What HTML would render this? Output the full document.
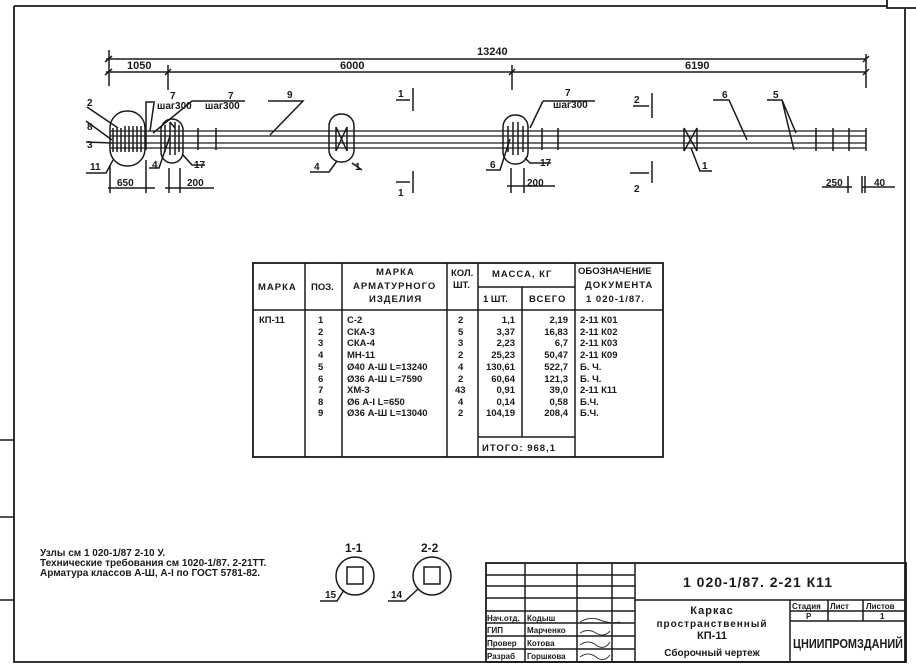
<!DOCTYPE html>
<html><head><meta charset="utf-8"><style>
html,body{margin:0;padding:0;background:#fff;}
svg{display:block;}
text{font-family:"Liberation Sans","DejaVu Sans",sans-serif;fill:#1a1a1a;font-weight:bold;}
.h{letter-spacing:1px;}
</style></head><body>
<svg width="916" height="665" viewBox="0 0 916 665" xmlns="http://www.w3.org/2000/svg">
<g stroke="#1a1a1a" fill="none" stroke-width="1.5">
<path d="M14 6 H887 M14 6 V662 H906 M905 8 V662 M887 0 V8 H916" stroke-width="1.8"/>
<path d="M0 440 H14 M0 517 H14 M0 600 H14"/>
<path d="M106 59 H866 M106 72 H866"/>
<path d="M109 50 V86 M168 65 V90 M512 65 V90 M866 54 V88"/>
<path d="M105 62 L112 56 M105 75 L112 69 M165 75 L171 69 M509 75 L515 69 M863 62 L869 56 M863 75 L869 69"/>
<path d="M110 131 H866 M110 136 H866 M110 143 H866 M110 148 H866" stroke-width="1.3"/>
<rect x="110" y="111" width="35" height="55" rx="17" />
<path d="M113 128 V152 M117 128 V152 M121 128 V152 M125 126 V152 M129 126 V152 M133 126 V152 M137 126 V152 M141 126 V152"/>
<path d="M146 150 V102 H155"/>
<rect x="161" y="119" width="22" height="44" rx="11"/>
<path d="M165 125 V152 M170 122 V155 M175 122 V155 M179 125 V152 M170 122 L175 128"/>
<path d="M198 128 V150 M216 128 V150"/>
<rect x="329" y="114" width="25" height="48" rx="12"/>
<path d="M336 127 V151 M347 127 V151 M336 127 L347 151 M347 127 L336 151"/>
<rect x="503" y="115" width="25" height="49" rx="12"/>
<path d="M508 126 V152 M513 122 V155 M518 122 V155 M523 126 V152"/>
<path d="M542 128 V150 M558 128 V150"/>
<path d="M684 128 V151 M697 128 V151 M684 128 L697 151 M697 128 L684 151"/>
<path d="M816 128 V151 M833 128 V151 M849 128 V151 M866 128 V151"/>
<path d="M87 107 L118 128 M86 121 L112 140 M86 142 L112 143 M86 173 H106 L113 160"/>
<path d="M150 131 L154 103 M153 133 L192 101 H245 M268 101 H303 L270 135"/>
<path d="M149 168 H159 L170 136 M183 155 L192 165 H205"/>
<path d="M543 101 L530 128 M543 101 H595"/>
<path d="M486 170 H500 L510 139 M525 158 L530 163 H551"/>
<path d="M713 100 H729 L747 140 M767 100 H782 L796 133 M782 100 L794 150 M691 148 L700 171 H712"/>
<path d="M310 172 H329 L337 161 M352 163 L362 170"/>
<path d="M396 100 H410 M413 88 V111 M396 182 H410 M413 171 V193 M633 106 H649 M652 93 V118 M630 173 H649 M652 161 V183"/>
<path d="M110 165 V193 M146 160 V193 M108 188 H155 M169 168 V193 M180 168 V193 M165 188 H214 M511 168 V193 M524 168 V193 M507 186 H555 M848 176 V193 M862 176 V193 M865 176 V193 M822 187 H852 M862 187 H895"/>
<rect x="253" y="263" width="410" height="194" stroke-width="1.8"/>
<path d="M305 263 V457 M342 263 V457 M447 263 V457 M478 263 V457 M575 263 V457 M522 287 V437 M478 287 H575 M253 310 H663 M478 437 H575"/>
<circle cx="355" cy="576" r="19"/><rect x="347" y="567" width="16" height="17"/>
<circle cx="432" cy="576" r="19"/><rect x="424" y="567" width="16" height="17"/>
<path d="M320 601 H337 L344 590 M388 601 H405 L418 589"/>
<rect x="486" y="563" width="420" height="99" stroke-width="1.8"/>
<path d="M525 563 V662 M577 563 V662 M612 563 V662 M635 563 V662"/>
<path d="M486 575 H635 M486 586 H635 M486 598 H635 M486 611 H635 M486 623 H635 M486 636 H635 M486 649 H635"/>
<path d="M635 600 H906 M790 600 V662 M790 611 H906 M790 621 H906 M828 600 V621 M863 600 V621"/>
</g>
<g>
<text x="477" y="55" font-size="11">13240</text>
<text x="127" y="69" font-size="11">1050</text>
<text x="340" y="69" font-size="11">6000</text>
<text x="685" y="69" font-size="11">6190</text>
<text x="87" y="106" font-size="10">2</text>
<text x="87" y="130" font-size="10">8</text>
<text x="87" y="148" font-size="10">3</text>
<text x="90" y="170" font-size="10">11</text>
<text x="170" y="99" font-size="10">7</text>
<text x="157" y="109" font-size="10">шаг300</text>
<text x="228" y="99" font-size="10">7</text>
<text x="205" y="109" font-size="10">шаг300</text>
<text x="287" y="98" font-size="10">9</text>
<text x="152" y="168" font-size="10">4</text>
<text x="194" y="168" font-size="10">17</text>
<text x="117" y="186" font-size="10">650</text>
<text x="187" y="186" font-size="10">200</text>
<text x="314" y="170" font-size="10">4</text>
<text x="355" y="170" font-size="10">1</text>
<text x="398" y="97" font-size="10">1</text>
<text x="398" y="196" font-size="10">1</text>
<text x="565" y="96" font-size="10">7</text>
<text x="553" y="108" font-size="10">шаг300</text>
<text x="490" y="168" font-size="10">6</text>
<text x="540" y="166" font-size="10">17</text>
<text x="527" y="186" font-size="10">200</text>
<text x="634" y="103" font-size="10">2</text>
<text x="634" y="192" font-size="10">2</text>
<text x="722" y="98" font-size="10">6</text>
<text x="773" y="98" font-size="10">5</text>
<text x="702" y="169" font-size="10">1</text>
<text x="826" y="186" font-size="10">250</text>
<text x="874" y="186" font-size="10">40</text>
</g>
<g font-size="9.5">
<text x="258" y="290" class="h">МАРКА</text>
<text x="311" y="290">ПОЗ.</text>
<text x="376" y="275" class="h">МАРКА</text>
<text x="353" y="289" class="h">АРМАТУРНОГО</text>
<text x="369" y="302" class="h">ИЗДЕЛИЯ</text>
<text x="451" y="276">КОЛ.</text>
<text x="453" y="288">ШТ.</text>
<text x="492" y="277" class="h">МАССА, КГ</text>
<text x="483" y="302">1 ШТ.</text>
<text x="529" y="302" class="h">ВСЕГО</text>
<text x="578" y="274">ОБОЗНАЧЕНИЕ</text>
<text x="585" y="288" class="h">ДОКУМЕНТА</text>
<text x="586" y="302" class="h">1 020-1/87.</text>
<text x="259" y="323">КП-11</text>
<text x="318" y="323">1</text><text x="318" y="335">2</text><text x="318" y="346">3</text><text x="318" y="358">4</text><text x="318" y="370">5</text><text x="318" y="382">6</text><text x="318" y="393">7</text><text x="318" y="405">8</text><text x="318" y="416">9</text>
<text x="347" y="323">С-2</text>
<text x="347" y="335">СКА-3</text>
<text x="347" y="346">СКА-4</text>
<text x="347" y="358">МН-11</text>
<text x="347" y="370">Ø40 А-Ш   L=13240</text>
<text x="347" y="382">Ø36 А-Ш   L=7590</text>
<text x="347" y="393">ХМ-3</text>
<text x="347" y="405">Ø6 А-I      L=650</text>
<text x="347" y="416">Ø36 А-Ш   L=13040</text>
<text x="458" y="323">2</text><text x="458" y="335">5</text><text x="458" y="346">3</text><text x="458" y="358">2</text><text x="458" y="370">4</text><text x="458" y="382">2</text><text x="455" y="393">43</text><text x="458" y="405">4</text><text x="458" y="416">2</text>
<g text-anchor="end">
<text x="515" y="323">1,1</text><text x="515" y="335">3,37</text><text x="515" y="346">2,23</text><text x="515" y="358">25,23</text><text x="515" y="370">130,61</text><text x="515" y="382">60,64</text><text x="515" y="393">0,91</text><text x="515" y="405">0,14</text><text x="515" y="416">104,19</text>
<text x="568" y="323">2,19</text><text x="568" y="335">16,83</text><text x="568" y="346">6,7</text><text x="568" y="358">50,47</text><text x="568" y="370">522,7</text><text x="568" y="382">121,3</text><text x="568" y="393">39,0</text><text x="568" y="405">0,58</text><text x="568" y="416">208,4</text>
</g>
<text x="580" y="323">2-11  К01</text><text x="580" y="335">2-11  К02</text><text x="580" y="346">2-11  К03</text><text x="580" y="358">2-11  К09</text><text x="580" y="370">Б. Ч.</text><text x="580" y="382">Б. Ч.</text><text x="580" y="393">2-11  К11</text><text x="580" y="405">Б.Ч.</text><text x="580" y="416">Б.Ч.</text>
<text x="482" y="451" class="h">ИТОГО: 968,1</text>
</g>
<g font-size="10">
<text x="40" y="556">Узлы см 1 020-1/87  2-10 У.</text>
<text x="40" y="566">Технические требования см 1020-1/87. 2-21ТТ.</text>
<text x="40" y="576">Арматура классов А-Ш, А-I по ГОСТ 5781-82.</text>
<text x="345" y="552" font-size="12">1-1</text>
<text x="421" y="552" font-size="12">2-2</text>
<text x="325" y="598">15</text>
<text x="391" y="598">14</text>
</g>
<g font-size="8">
<text x="487" y="621">Нач.отд.</text><text x="527" y="621">Кодыш</text>
<text x="487" y="633">ГИП</text><text x="527" y="633">Марченко</text>
<text x="487" y="646">Провер</text><text x="527" y="646">Котова</text>
<text x="487" y="659">Разраб</text><text x="527" y="659">Горшкова</text>
<text x="792" y="609">Стадия</text><text x="830" y="609">Лист</text><text x="866" y="609">Листов</text>
<text x="806" y="619">Р</text><text x="880" y="619">1</text>
</g>
<text x="683" y="587" font-size="14" class="h">1 020-1/87. 2-21    К11</text>
<text x="712" y="614" font-size="11" text-anchor="middle" class="h">Каркас</text>
<text x="712" y="627" font-size="10" text-anchor="middle" class="h">пространственный</text>
<text x="712" y="639" font-size="11" text-anchor="middle">КП-11</text>
<text x="712" y="656" font-size="10" text-anchor="middle">Сборочный чертеж</text>
<text x="848" y="648" font-size="13" text-anchor="middle" textLength="110" lengthAdjust="spacingAndGlyphs">ЦНИИПРОМЗДАНИЙ</text>
<path d="M580 622 q10 -6 20 -2 t20 2 M580 633 q8 -5 16 0 t14 -2 M580 645 q8 -6 16 0 t14 -3 M580 657 q8 -6 16 0 t14 -2" stroke="#333" fill="none" stroke-width="1"/>
</svg>
</body></html>
